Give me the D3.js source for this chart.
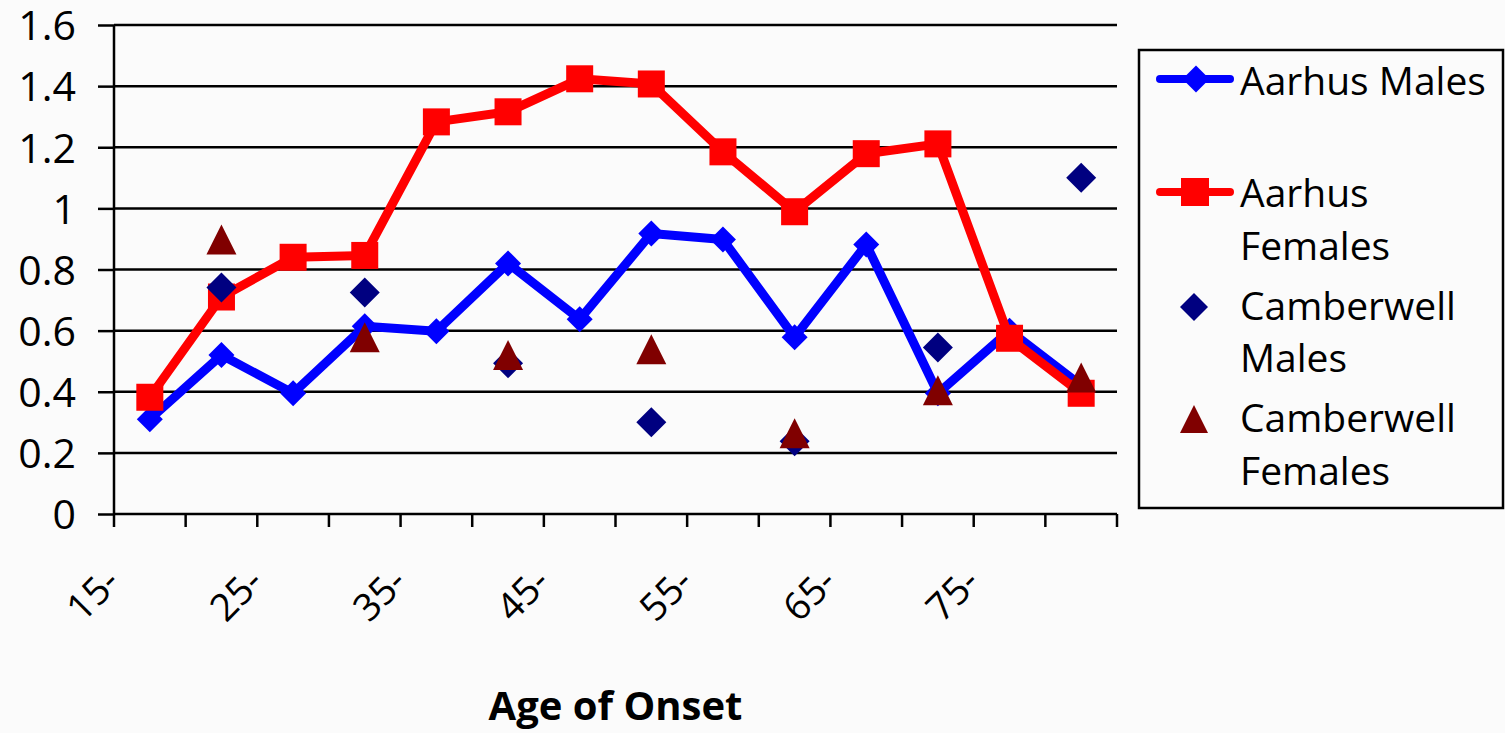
<!DOCTYPE html>
<html>
<head>
<meta charset="utf-8">
<script src="https://cdn.jsdelivr.net/npm/d3@7"></script>
<style>
  body { margin: 0; background: #fbfbfb; }
  text { font-family: "Open Sans", "Noto Sans", sans-serif; }
</style>
</head>
<body>
<div id="chart"></div>
<script>
// age-of-onset bands (14 of them, every other one is labelled)
const ages = ["15-","20-","25-","30-","35-","40-","45-","50-","55-","60-","65-","70-","75-","80-"];

// series values
const aarhusMales   = [0.31, 0.52, 0.395, 0.614, 0.598, 0.82, 0.637, 0.918, 0.898, 0.578, 0.882, 0.395, 0.60, 0.42];
const aarhusFemales = [0.382, 0.71, 0.84, 0.846, 1.283, 1.316, 1.424, 1.407, 1.185, 0.989, 1.179, 1.211, 0.575, 0.395];
const cambMales     = [null, 0.741, null, 0.725, null, 0.493, null, 0.30, null, 0.238, null, 0.545, null, 1.10];
const cambFemales   = [null, 0.898, null, 0.578, null, 0.52, null, 0.539, null, 0.264, null, 0.405, null, 0.447];

const yTicks = [0, 0.2, 0.4, 0.6, 0.8, 1, 1.2, 1.4, 1.6];

const W = 1505, H = 733;
const mLeft = 114, mRight = 1117, mTop = 25, mBottom = 514;

const svg = d3.select("#chart").append("svg")
  .attr("width", W).attr("height", H);

svg.append("rect").attr("width", W).attr("height", H).attr("fill", "#fbfbfb");

const x = d3.scaleBand().domain(ages).range([mLeft, mRight]);
const y = d3.scaleLinear().domain([0, 1.6]).range([mBottom, mTop]);
const cx = d => x(d) + x.bandwidth() / 2;

// gridlines
svg.append("g").selectAll("line")
  .data(yTicks.slice(1))
  .enter().append("line")
  .attr("x1", mLeft).attr("x2", mRight)
  .attr("y1", d => y(d)).attr("y2", d => y(d))
  .attr("stroke", "#000").attr("stroke-width", 2.5);

// y axis
const yAxis = d3.axisLeft(y).tickValues(yTicks).tickSize(16).tickPadding(22)
  .tickFormat(d => String(+d.toFixed(1)));
const gy = svg.append("g").attr("transform", "translate(" + mLeft + ",0)").call(yAxis);
gy.select(".domain").attr("stroke", "#000").attr("stroke-width", 2.5).attr("d", "M0," + mTop + "V" + mBottom);
gy.selectAll(".tick line").attr("stroke", "#000").attr("stroke-width", 2.5);
gy.selectAll("text").attr("font-size", 41).attr("fill", "#000")
  .attr("font-family", "'Open Sans', sans-serif").attr("dy", "0.36em");

// x axis: ticks at category boundaries
const bounds = ages.map(a => x(a)).concat([mRight]);
svg.append("line").attr("x1", mLeft).attr("x2", mRight).attr("y1", mBottom).attr("y2", mBottom)
  .attr("stroke", "#000").attr("stroke-width", 2.5);
svg.append("g").selectAll("line").data(bounds).enter().append("line")
  .attr("x1", d => d).attr("x2", d => d)
  .attr("y1", mBottom).attr("y2", mBottom + 13)
  .attr("stroke", "#000").attr("stroke-width", 2.5);

svg.append("g").selectAll("text")
  .data(ages.filter((a, i) => i % 2 === 0))
  .enter().append("text")
  .attr("transform", d => "translate(" + (x(d) + 8) + ",584) rotate(-45)")
  .attr("text-anchor", "end")
  .attr("font-size", 38)
  .attr("fill", "#000")
  .text(d => d);

svg.append("text")
  .attr("x", (mLeft + mRight) / 2).attr("y", 720)
  .attr("text-anchor", "middle")
  .attr("font-size", 40).attr("font-weight", "bold").attr("fill", "#000")
  .text("Age of Onset");

// lines
const line = d3.line().x((d, i) => cx(ages[i])).y(d => y(d));

function diamondPath(cxp, cyp, r) {
  return "M" + cxp + "," + (cyp - r) + "L" + (cxp + r) + "," + cyp + "L" + cxp + "," + (cyp + r) + "L" + (cxp - r) + "," + cyp + "Z";
}
function trianglePath(cxp, cyp, s) {
  return "M" + cxp + "," + (cyp - s / 2) + "L" + (cxp + s / 2) + "," + (cyp + s / 2) + "L" + (cxp - s / 2) + "," + (cyp + s / 2) + "Z";
}

// Aarhus Males
svg.append("path").datum(aarhusMales).attr("d", line)
  .attr("fill", "none").attr("stroke", "#0000ff").attr("stroke-width", 9).attr("stroke-linejoin", "round");
svg.append("g").selectAll("path").data(aarhusMales).enter().append("path")
  .attr("d", (d, i) => diamondPath(cx(ages[i]), y(d), 13))
  .attr("fill", "#0000ff");

// Aarhus Females
svg.append("path").datum(aarhusFemales).attr("d", line)
  .attr("fill", "none").attr("stroke", "#ff0000").attr("stroke-width", 9).attr("stroke-linejoin", "round");
svg.append("g").selectAll("rect").data(aarhusFemales).enter().append("rect")
  .attr("x", (d, i) => cx(ages[i]) - 13.5).attr("y", d => y(d) - 13.5)
  .attr("width", 27).attr("height", 27)
  .attr("fill", "#ff0000");

// Camberwell Males
svg.append("g").selectAll("path")
  .data(cambMales.map((v, i) => ({ a: ages[i], v: v })).filter(d => d.v !== null))
  .enter().append("path")
  .attr("d", d => diamondPath(cx(d.a), y(d.v), 15))
  .attr("fill", "#000080");

// Camberwell Females
svg.append("g").selectAll("path")
  .data(cambFemales.map((v, i) => ({ a: ages[i], v: v })).filter(d => d.v !== null))
  .enter().append("path")
  .attr("d", d => trianglePath(cx(d.a), y(d.v), 30))
  .attr("fill", "#800000");

// legend
const lg = svg.append("g");
lg.append("rect").attr("x", 1139).attr("y", 50).attr("width", 364).attr("height", 458)
  .attr("fill", "none").attr("stroke", "#000").attr("stroke-width", 2.5);

lg.append("line").attr("x1", 1160).attr("x2", 1230).attr("y1", 79).attr("y2", 79)
  .attr("stroke", "#0000ff").attr("stroke-width", 8).attr("stroke-linecap", "round");
lg.append("path").attr("d", diamondPath(1196, 79, 13.5)).attr("fill", "#0000ff");

lg.append("line").attr("x1", 1160).attr("x2", 1230).attr("y1", 192).attr("y2", 192)
  .attr("stroke", "#ff0000").attr("stroke-width", 8).attr("stroke-linecap", "round");
lg.append("rect").attr("x", 1181).attr("y", 178).attr("width", 28).attr("height", 28).attr("fill", "#ff0000");

lg.append("path").attr("d", diamondPath(1194, 307, 14)).attr("fill", "#000080");
lg.append("path").attr("d", trianglePath(1194, 419, 28)).attr("fill", "#800000");

const legendText = [
  { t: "Aarhus Males", y: 95 },
  { t: "Aarhus", y: 207 },
  { t: "Females", y: 260 },
  { t: "Camberwell", y: 320 },
  { t: "Males", y: 372 },
  { t: "Camberwell", y: 432 },
  { t: "Females", y: 485 }
];
lg.selectAll("text").data(legendText).enter().append("text")
  .attr("x", 1240).attr("y", d => d.y)
  .attr("font-size", 39).attr("fill", "#000")
  .text(d => d.t);
</script>
</body>
</html>
